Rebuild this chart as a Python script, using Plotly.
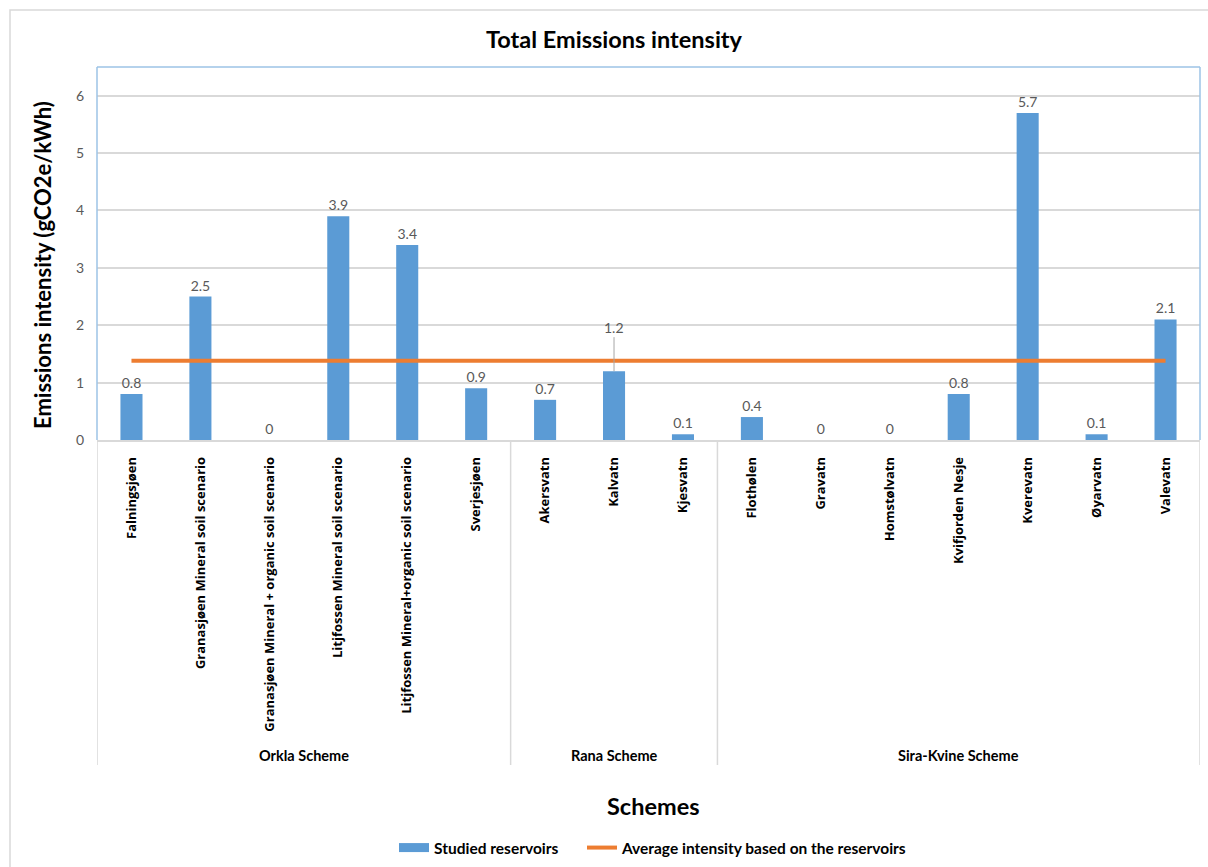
import plotly.graph_objects as go

# Reservoirs, grouped by hydropower scheme
schemes = ["Orkla Scheme"] * 6 + ["Rana Scheme"] * 3 + ["Sira-Kvine Scheme"] * 7
reservoirs = [
    "Falningsjøen",
    "Granasjøen Mineral soil scenario",
    "Granasjøen Mineral + organic soil scenario",
    "Litjfossen Mineral soil scenario",
    "Litjfossen Mineral+organic soil scenario",
    "Sverjesjøen",
    "Akersvatn",
    "Kalvatn",
    "Kjesvatn",
    "Flothølen",
    "Gravatn",
    "Homstølvatn",
    "Kvifjorden Nesje",
    "Kverevatn",
    "Øyarvatn",
    "Valevatn",
]
intensity = [0.8, 2.5, 0, 3.9, 3.4, 0.9, 0.7, 1.2, 0.1, 0.4, 0, 0, 0.8, 5.7, 0.1, 2.1]
average_intensity = [1.38] * len(reservoirs)
y_ticks = [0, 1, 2, 3, 4, 5, 6]

BLUE = "#5B9BD5"
ORANGE = "#ED7D31"
GRID = "#D9D9D9"
FRAME = "#9DC3E6"
LABEL_GREY = "#595959"
CAT_FONT = "Open Sans"
TXT_FONT = "Lato"

# Kalvatn's label is pulled up with a leader line, so leave it off the bar itself
leader_idx = reservoirs.index("Kalvatn")
bar_text = ["" if i == leader_idx else f"{v:g}" for i, v in enumerate(intensity)]

x_idx = list(range(len(reservoirs)))

fig = go.Figure()
fig.add_trace(go.Bar(
    x=x_idx, y=intensity, name="Studied reservoirs", showlegend=False,
    marker=dict(color=BLUE, line=dict(width=0)),
    width=0.32,
    text=bar_text, textposition="outside", cliponaxis=False,
    textfont=dict(family=TXT_FONT, size=14, color=LABEL_GREY),
))
# Legend key for the bars: a wide flat swatch
fig.add_trace(go.Scatter(
    x=[None], y=[None], mode="lines", name="Studied reservoirs",
    line=dict(color=BLUE, width=9), legend="legend",
))
fig.add_trace(go.Scatter(
    x=x_idx, y=average_intensity, mode="lines",
    name="Average intensity based on the reservoirs",
    line=dict(color=ORANGE, width=4), legend="legend2",
))

# Leader-line label for Kalvatn
fig.add_annotation(
    x=leader_idx, y=intensity[leader_idx], xref="x", yref="y",
    text=f"{intensity[leader_idx]:g}", showarrow=True, arrowhead=0,
    arrowwidth=1, arrowcolor="#A6A6A6", ax=0, ay=-44, standoff=0,
    font=dict(family=TXT_FONT, size=14, color=LABEL_GREY),
)

# Plot-area geometry (pixels) used to place paper-referenced items
W, H = 1208, 867
L, R, T, B = 97, 8, 67, 427
plot_h = H - T - B
plot_w = W - L - R


def py(pix):
    """Pixel row -> paper y."""
    return (H - B - pix) / plot_h


def px(pix):
    """Pixel column -> paper x."""
    return (pix - L) / plot_w


# Scheme group labels and separators under the category axis
groups = []
for i, s in enumerate(schemes):
    if not groups or groups[-1][0] != s:
        groups.append([s, i, i])
    else:
        groups[-1][2] = i

shapes = []
bounds = [-0.5] + [g[2] + 0.5 for g in groups]
for b in bounds:
    shapes.append(dict(type="line", xref="x", yref="paper", x0=b, x1=b,
                       y0=0, y1=py(765), line=dict(color=GRID, width=1.5)))
for name, i0, i1 in groups:
    fig.add_annotation(
        x=(i0 + i1) / 2, y=py(755), xref="x", yref="paper", showarrow=False,
        text=f"<b>{name}</b>", xanchor="center", yanchor="middle",
        font=dict(family=TXT_FONT, size=14.5, color="#000000"),
    )

# Plot-area frame (top, left, right) in light blue
shapes += [
    dict(type="line", xref="paper", yref="paper", x0=0, x1=1, y0=1, y1=1,
         line=dict(color=FRAME, width=1.5)),
    dict(type="line", xref="paper", yref="paper", x0=0, x1=0, y0=0, y1=1,
         line=dict(color=FRAME, width=1.5)),
    dict(type="line", xref="paper", yref="paper", x0=1, x1=1, y0=0, y1=1,
         line=dict(color=FRAME, width=1.5)),
    # outer chart border
    dict(type="rect", xref="paper", yref="paper", x0=px(10), x1=px(1230),
         y0=py(890), y1=py(10), line=dict(color=GRID, width=1.5), layer="below"),
]

# Axis titles
fig.add_annotation(
    x=px(42), y=py(265), xref="paper", yref="paper", showarrow=False,
    xanchor="center", yanchor="middle",
    text="<b>Emissions intensity (gCO2e/kWh)</b>", textangle=-90,
    font=dict(family=TXT_FONT, size=22, color="#000000"),
)
fig.add_annotation(
    x=px(653), y=py(806), xref="paper", yref="paper", showarrow=False,
    xanchor="center", yanchor="middle",
    text="<b>Schemes</b>",
    font=dict(family=TXT_FONT, size=23.5, color="#000000"),
)

legend_style = dict(
    orientation="h", xref="container", xanchor="left",
    yref="container", y=(H - 848) / H, yanchor="middle",
    font=dict(family=TXT_FONT, size=15.5, color="#000000", weight="bold"),
    itemwidth=30,
)

fig.update_layout(
    width=W, height=H,
    margin=dict(l=L, r=R, t=T, b=B, autoexpand=False),
    paper_bgcolor="white", plot_bgcolor="white",
    title=dict(text="<b>Total Emissions intensity</b>", xref="container",
               x=614 / W, xanchor="center",
               yref="container", y=(H - 40) / H, yanchor="middle",
               font=dict(family=TXT_FONT, size=23.5, color="#000000")),
    showlegend=True,
    legend=dict(legend_style, x=394 / W),
    legend2=dict(legend_style, x=582 / W),
    bargap=0.68,
    shapes=shapes,
)

fig.update_xaxes(
    tickmode="array", tickvals=x_idx, ticktext=reservoirs,
    range=[-0.5, len(reservoirs) - 0.5],
    tickangle=-90, ticks="", ticklabelstandoff=10,
    tickfont=dict(family=CAT_FONT, size=13, color="#000000", weight=700),
    showline=True, linecolor=GRID, linewidth=1.5,
    showgrid=False, zeroline=False,
)
fig.update_yaxes(
    range=[0, 6.5], tickvals=y_ticks, ticks="", ticklabelstandoff=12,
    tickfont=dict(family=TXT_FONT, size=14, color=LABEL_GREY),
    showgrid=True, gridcolor=GRID, gridwidth=1.5,
    zeroline=False, showline=False,
)

fig.write_html("out.html")
